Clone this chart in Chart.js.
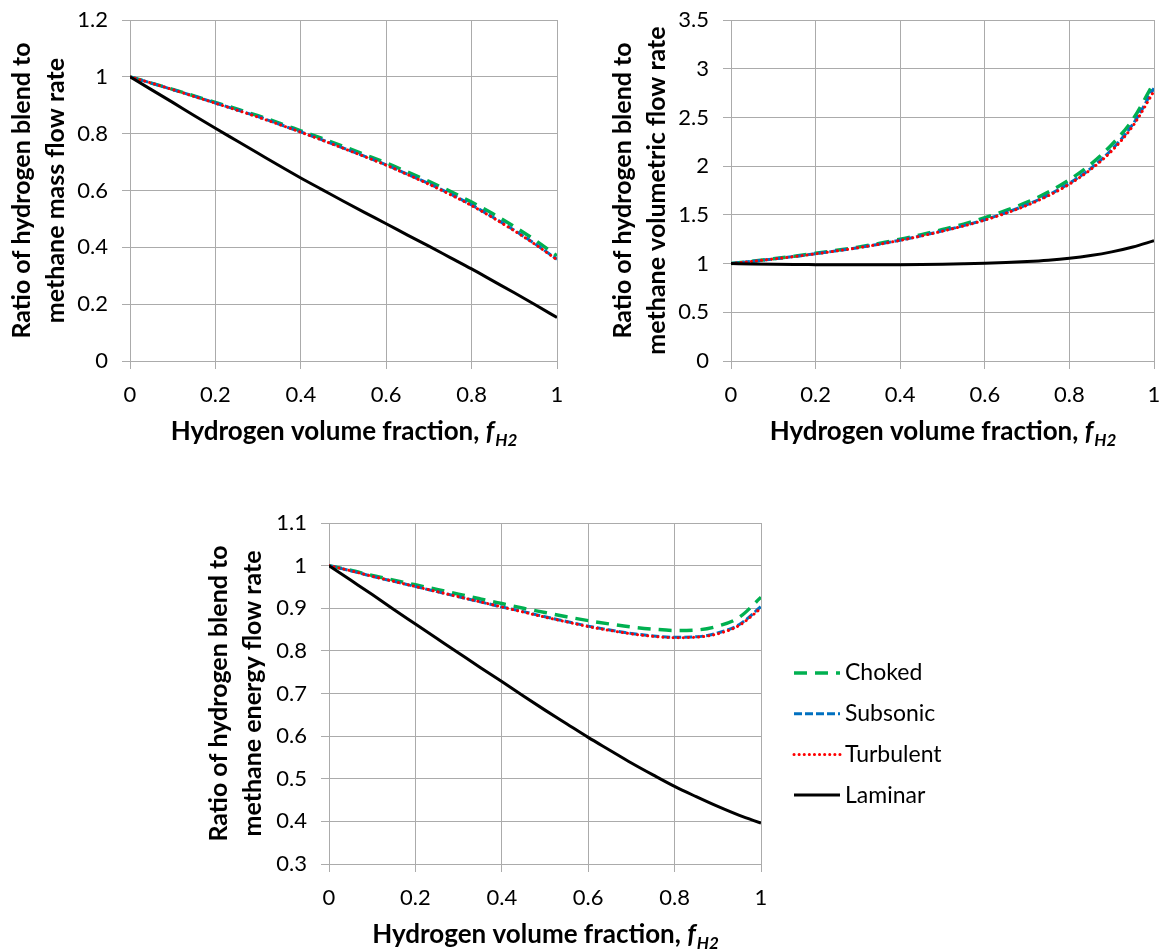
<!DOCTYPE html>
<html>
<head>
<meta charset="utf-8">
<title>Hydrogen blend to methane flow rate ratios</title>
<script src="https://cdn.jsdelivr.net/npm/chart.js@4.4.1/dist/chart.umd.min.js"></script>
<style>
  html, body { margin: 0; padding: 0; background: #fff; }
  #wrap { position: relative; width: 1164px; height: 952px; overflow: hidden; }
  canvas { position: absolute; }
  #mass-chart { left: 0; top: 0; }
  #vol-chart { left: 580px; top: 0; }
  #energy-chart { left: 200px; top: 480px; }
</style>
</head>
<body>
<div id="wrap">
  <canvas id="mass-chart" width="580" height="460"></canvas>
  <canvas id="vol-chart" width="584" height="460"></canvas>
  <canvas id="energy-chart" width="964" height="472"></canvas>
</div>
<script>
"use strict";

/* --- DATA --- */

const fraction = [0, 0.05, 0.1, 0.15, 0.2, 0.25, 0.3, 0.35, 0.4, 0.45, 0.5,
  0.55, 0.6, 0.65, 0.7, 0.75, 0.8, 0.85, 0.9, 0.95, 1];

const series_names = ['Choked', 'Subsonic', 'Turbulent', 'Laminar'];

// mass flow rate ratio
const mass_choked = [1, 0.978, 0.956, 0.933, 0.910, 0.887, 0.863, 0.837, 0.810, 0.783,
  0.755, 0.726, 0.697, 0.665, 0.632, 0.597, 0.559, 0.518, 0.473, 0.424, 0.370];
const mass_subsonic = [1, 0.978, 0.955, 0.932, 0.908, 0.884, 0.860, 0.833, 0.806, 0.778,
  0.749, 0.720, 0.690, 0.657, 0.624, 0.588, 0.549, 0.506, 0.460, 0.411, 0.358];
const mass_turbulent = [1, 0.978, 0.955, 0.931, 0.907, 0.883, 0.858, 0.832, 0.805, 0.777,
  0.748, 0.719, 0.689, 0.656, 0.622, 0.586, 0.547, 0.504, 0.458, 0.409, 0.356];
const mass_laminar = [1, 0.955, 0.910, 0.864, 0.819, 0.775, 0.731, 0.687, 0.644, 0.603,
  0.562, 0.522, 0.483, 0.443, 0.404, 0.364, 0.324, 0.282, 0.240, 0.197, 0.153];

// volumetric flow rate ratio
const vol_choked = [1, 1.024, 1.049, 1.076, 1.105, 1.136, 1.169, 1.206, 1.250, 1.296,
  1.349, 1.405, 1.470, 1.545, 1.630, 1.733, 1.860, 2.017, 2.220, 2.480, 2.860];
const vol_subsonic = [1, 1.023, 1.047, 1.073, 1.101, 1.131, 1.163, 1.199, 1.240, 1.285,
  1.336, 1.389, 1.450, 1.522, 1.604, 1.703, 1.824, 1.975, 2.170, 2.430, 2.800];
const vol_turbulent = [1, 1.023, 1.047, 1.072, 1.100, 1.130, 1.162, 1.198, 1.238, 1.283,
  1.333, 1.386, 1.446, 1.517, 1.598, 1.696, 1.815, 1.964, 2.156, 2.412, 2.770];
const vol_laminar = [1, 0.995, 0.992, 0.990, 0.989, 0.988, 0.988, 0.988, 0.989, 0.991,
  0.994, 0.998, 1.003, 1.010, 1.020, 1.034, 1.054, 1.082, 1.120, 1.170, 1.235];

// energy flow rate ratio
const energy_choked = [1, 0.989, 0.977, 0.966, 0.955, 0.944, 0.933, 0.922, 0.911, 0.900,
  0.890, 0.880, 0.871, 0.863, 0.856, 0.851, 0.848, 0.849, 0.858, 0.879, 0.926];
const energy_subsonic = [1, 0.988, 0.975, 0.963, 0.951, 0.939, 0.927, 0.915, 0.903, 0.892,
  0.880, 0.869, 0.858, 0.849, 0.841, 0.835, 0.832, 0.833, 0.842, 0.862, 0.904];
const energy_turbulent = [1, 0.988, 0.975, 0.963, 0.951, 0.939, 0.927, 0.915, 0.903, 0.891,
  0.879, 0.868, 0.857, 0.848, 0.840, 0.834, 0.831, 0.832, 0.840, 0.860, 0.900];
const energy_laminar = [1, 0.966, 0.932, 0.897, 0.863, 0.829, 0.795, 0.761, 0.728, 0.694,
  0.661, 0.629, 0.597, 0.567, 0.537, 0.509, 0.482, 0.458, 0.435, 0.414, 0.396];

/* --- STYLE --- */

Chart.defaults.font.family = 'Lato';
Chart.defaults.color = '#000';

const GRID = '#ABABAB';

const line_styles = {
  Choked: { color: '#00B050', width: 3.5, dash: [13, 8], cap: 'butt', order: 4 },
  Subsonic: { color: '#0070C0', width: 3, dash: [8, 3], cap: 'butt', order: 3 },
  Turbulent: { color: '#FF0000', width: 3, dash: [0.1, 5], cap: 'round', order: 2 },
  Laminar: { color: '#000000', width: 3, dash: [], cap: 'butt', order: 1 }
};

// excel style tick text: 1 not 1.0
function tick_text(v) {
  return String(Math.round(v * 100) / 100);
}

function build_datasets(values) {
  return series_names.map((name, i) => {
    const st = line_styles[name];
    return {
      label: name,
      data: fraction.map((x, j) => ({ x: x, y: values[i][j] })),
      borderColor: st.color,
      backgroundColor: st.color,
      borderWidth: st.width,
      borderDash: st.dash,
      borderCapStyle: st.cap,
      order: st.order,
      pointRadius: 0,
      fill: false,
      cubicInterpolationMode: 'monotone'
    };
  });
}

/* x title with subscript, drawn under the plot */
const x_title_plugin = {
  id: 'xTitle',
  afterDraw(chart) {
    const ctx = chart.ctx;
    const area = chart.chartArea;
    const main = 'Hydrogen volume fraction, ';
    ctx.save();
    ctx.fillStyle = '#000';
    ctx.textBaseline = 'alphabetic';
    ctx.font = 'bold 26px Lato';
    const w1 = ctx.measureText(main).width;
    ctx.font = 'italic bold 26px Lato';
    const w2 = ctx.measureText('f').width;
    ctx.font = 'italic bold 17px Lato';
    const w3 = ctx.measureText('H2').width;
    let x = (area.left + area.right) / 2 - (w1 + w2 + w3) / 2;
    const y = area.bottom + 79;
    ctx.font = 'bold 26px Lato';
    ctx.fillText(main, x, y);
    x += w1;
    ctx.font = 'italic bold 26px Lato';
    ctx.fillText('f', x, y);
    x += w2 + 1;
    ctx.font = 'italic bold 17px Lato';
    ctx.fillText('H2', x, y + 6);
    ctx.restore();
  }
};

/* legend at the right of the energy chart */
const side_legend_plugin = {
  id: 'sideLegend',
  afterDraw(chart) {
    const ctx = chart.ctx;
    const area = chart.chartArea;
    const left = area.right + 33;
    let y = area.top + 150;
    ctx.save();
    ctx.font = '23px Lato';
    ctx.textBaseline = 'middle';
    chart.data.datasets.forEach(ds => {
      ctx.beginPath();
      ctx.setLineDash(ds.borderDash);
      ctx.lineCap = ds.borderCapStyle;
      ctx.lineWidth = ds.borderWidth;
      ctx.strokeStyle = ds.borderColor;
      ctx.moveTo(left, y);
      ctx.lineTo(left + 46, y);
      ctx.stroke();
      ctx.setLineDash([]);
      ctx.fillStyle = '#000';
      ctx.fillText(ds.label, left + 51, y);
      y += 40.7;
    });
    ctx.restore();
  }
};

function make_chart(id, values, cfg, plugins) {
  return new Chart(document.getElementById(id), {
    type: 'line',
    data: { datasets: build_datasets(values) },
    options: {
      responsive: false,
      animation: false,
      devicePixelRatio: 1,
      layout: { padding: { top: cfg.padTop, right: cfg.padRight, left: 0, bottom: 0 } },
      plugins: {
        legend: { display: false },
        tooltip: { enabled: false }
      },
      scales: {
        x: {
          type: 'linear',
          min: 0,
          max: 1,
          ticks: { stepSize: 0.2, padding: 13, font: { size: 22 }, callback: tick_text },
          grid: { color: GRID, tickColor: GRID, tickLength: 8, lineWidth: 1 },
          border: { color: GRID },
          afterFit(s) {
            s.height = cfg.xHeight;
            s.paddingLeft = 0;
            s.paddingRight = 0;
          }
        },
        y: {
          min: cfg.yMin,
          max: cfg.yMax,
          ticks: { stepSize: cfg.yStep, padding: 14, font: { size: 22 }, callback: tick_text },
          grid: { color: GRID, tickColor: GRID, tickLength: 8, lineWidth: 1 },
          border: { color: GRID },
          title: {
            display: true,
            text: cfg.yTitle,
            font: { size: 25, weight: 'bold', lineHeight: 1.36 },
            padding: { top: cfg.titlePad, bottom: 0 }
          },
          afterFit(s) {
            s.width = cfg.yWidth;
            s.paddingTop = 0;
            s.paddingBottom = 0;
          }
        }
      }
    },
    plugins: plugins
  });
}

/* --- MASS FLOW --- */

const mass_chart = make_chart('mass-chart',
  [mass_choked, mass_subsonic, mass_turbulent, mass_laminar],
  {
    yMin: 0, yMax: 1.2, yStep: 0.2,
    yTitle: ['Ratio of hydrogen blend to', 'methane mass flow rate'],
    padTop: 20, padRight: 23, xHeight: 99, yWidth: 130, titlePad: 5
  },
  [x_title_plugin]);

/* --- VOLUMETRIC FLOW --- */

const vol_chart = make_chart('vol-chart',
  [vol_choked, vol_subsonic, vol_turbulent, vol_laminar],
  {
    yMin: 0, yMax: 3.5, yStep: 0.5,
    yTitle: ['Ratio of hydrogen blend to', 'methane volumetric flow rate'],
    padTop: 20, padRight: 10, xHeight: 99, yWidth: 151, titlePad: 26
  },
  [x_title_plugin]);

/* --- ENERGY FLOW --- */

const energy_chart = make_chart('energy-chart',
  [energy_choked, energy_subsonic, energy_turbulent, energy_laminar],
  {
    yMin: 0.3, yMax: 1.1, yStep: 0.1,
    yTitle: ['Ratio of hydrogen blend to', 'methane energy flow rate'],
    padTop: 43, padRight: 403, xHeight: 88, yWidth: 129, titlePad: 2
  },
  [x_title_plugin, side_legend_plugin]);
</script>
</body>
</html>
